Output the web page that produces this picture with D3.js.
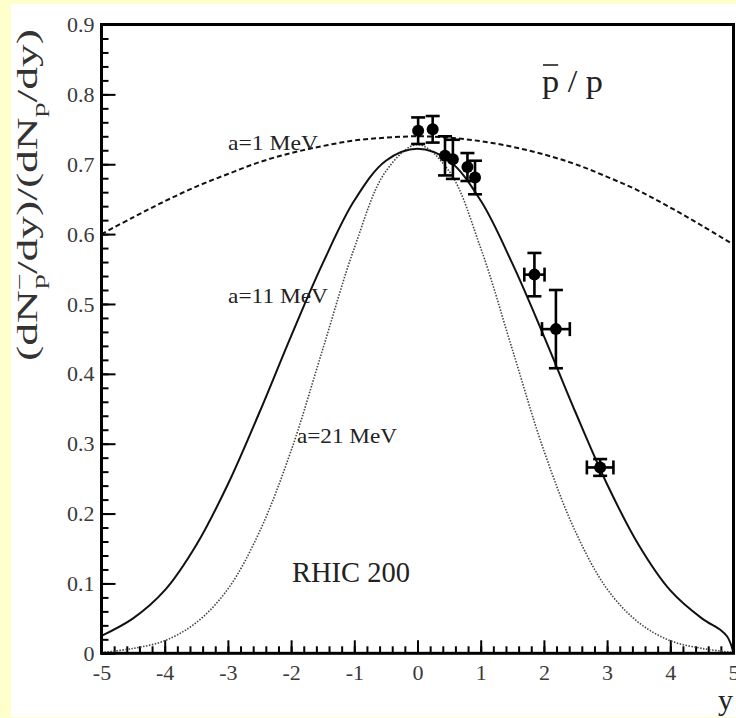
<!DOCTYPE html>
<html><head><meta charset="utf-8">
<script src="https://cdn.jsdelivr.net/npm/d3@7"></script>
<style>html,body{margin:0;padding:0;background:#FFFFCC;} svg{display:block}</style>
</head><body><svg id="c" width="736" height="718"></svg>
<script>
// ---- data ----
const dataRap      = [0.01, 0.24, 0.435, 0.56, 0.79, 0.91, 1.85, 2.19, 2.89];
const dataRatio    = [0.748, 0.750, 0.712, 0.707, 0.696, 0.681, 0.542, 0.464, 0.266];
const dataErrRatio = [0.019, 0.019, 0.028, 0.028, 0.020, 0.024, 0.031, 0.056, 0.012];
const dataErrRap   = [0, 0, 0, 0, 0, 0, 0.16, 0.22, 0.21];

const curveA1Rap = [-5,-4.5,-4,-3.5,-3,-2.5,-2,-1.5,-1,-0.5,0,0.5,1,1.5,2,2.5,3,3.5,4,4.5,5];
const curveA1Val = [0.600,0.624,0.647,0.668,0.686,0.703,0.716,0.726,0.734,0.738,0.740,0.738,0.733,0.725,0.714,0.700,0.682,0.662,0.638,0.612,0.585];

const curveA11Rap = [-5,-4.5,-4,-3.5,-3,-2.5,-2,-1.5,-1,-0.5,0,0.5,1,1.5,2,2.5,3,3.5,4,4.5,4.8,4.9,4.97,5];
const curveA11Val = [0.025,0.050,0.090,0.155,0.242,0.345,0.454,0.558,0.648,0.705,0.722,0.705,0.648,0.558,0.454,0.345,0.242,0.155,0.090,0.050,0.033,0.024,0.010,0];

const curveA21Rap = [-5,-4.5,-4,-3.5,-3,-2.5,-2,-1.5,-1,-0.5,0,0.5,1,1.5,2,2.5,3,3.5,4,4.5,5];
const curveA21Val = [0.001,0.007,0.018,0.044,0.092,0.174,0.290,0.435,0.580,0.690,0.728,0.690,0.580,0.435,0.290,0.174,0.092,0.044,0.018,0.007,0.001];

const xTickValues = [-5,-4,-3,-2,-1,0,1,2,3,4,5];
const xTickLabels = ["-5","-4","-3","-2","-1","0","1","2","3","4","5"];
const yTickValues = [0,0.1,0.2,0.3,0.4,0.5,0.6,0.7,0.8,0.9];
const yTickLabels = ["0","0.1","0.2","0.3","0.4","0.5","0.6","0.7","0.8","0.9"];

// ---- drawing ----
const W = 736, H = 718;
const FONT = "'Liberation Serif','Times New Roman',serif";
const svg = d3.select('#c');
svg.append('rect').attr('x', 11).attr('y', 4).attr('width', W - 11).attr('height', H - 5).attr('fill', '#fff');

const x = d3.scaleLinear().domain([-5, 5]).range([101.5, 733.5]);
const y = d3.scaleLinear().domain([0, 0.9]).range([653.3, 24.5]);

const xMinor = d3.range(-5, 5.0001, 0.2);
const yMinor = d3.range(0, 0.9001, 0.02);

function styleAxis(g) {
  g.select('.domain').remove();
  g.selectAll('.tick line').attr('stroke', '#000').attr('stroke-width', 2);
  g.selectAll('.tick text').attr('fill', '#3a3a3a').style('font-family', FONT).style('font-size', '22px');
}

svg.append('g').attr('transform', `translate(${x(-5)},0)`)
  .call(d3.axisLeft(y).tickValues(yMinor).tickSize(-7).tickSizeOuter(0).tickFormat(''))
  .call(styleAxis);
svg.append('g').attr('transform', `translate(${x(-5)},0)`)
  .call(d3.axisLeft(y).tickValues(yTickValues).tickSize(-14).tickSizeOuter(0).tickPadding(7)
        .tickFormat((d, i) => yTickLabels[i]))
  .call(styleAxis);
svg.append('g').attr('transform', `translate(0,${y(0)})`)
  .call(d3.axisBottom(x).tickValues(xMinor).tickSize(-7).tickSizeOuter(0).tickFormat(''))
  .call(styleAxis);
svg.append('g').attr('transform', `translate(0,${y(0)})`)
  .call(d3.axisBottom(x).tickValues(xTickValues).tickSize(-13).tickSizeOuter(0).tickPadding(11)
        .tickFormat((d, i) => xTickLabels[i]))
  .call(styleAxis);

// curves
const line = d3.line().x(d => x(d[0])).y(d => y(d[1])).curve(d3.curveCatmullRom.alpha(0.5));
function drawCurve(rap, val, attrs) {
  const p = svg.append('path').datum(rap.map((r, i) => [r, val[i]]))
    .attr('d', line).attr('fill', 'none');
  Object.entries(attrs).forEach(([k, v]) => p.attr(k, v));
}
drawCurve(curveA1Rap, curveA1Val, {stroke: '#111', 'stroke-width': 2, 'stroke-dasharray': '5 3'});
drawCurve(curveA21Rap, curveA21Val, {stroke: '#444', 'stroke-width': 1.6, 'stroke-dasharray': '1.5 1.5'});
drawCurve(curveA11Rap, curveA11Val, {stroke: '#111', 'stroke-width': 2});

// frame
svg.append('rect').attr('x', x(-5)).attr('y', y(0.9)).attr('width', x(5) - x(-5)).attr('height', y(0) - y(0.9))
  .attr('fill', 'none').attr('stroke', '#000').attr('stroke-width', 3);

// data points with error bars
const pts = dataRap.map((r, i) => ({r, v: dataRatio[i], ev: dataErrRatio[i], er: dataErrRap[i]}));
const eg = svg.append('g').attr('stroke', '#000').attr('stroke-width', 2.6);
const cap = 7;
pts.forEach(p => {
  eg.append('line').attr('x1', x(p.r)).attr('x2', x(p.r)).attr('y1', y(p.v - p.ev)).attr('y2', y(p.v + p.ev));
  eg.append('line').attr('x1', x(p.r) - cap).attr('x2', x(p.r) + cap).attr('y1', y(p.v + p.ev)).attr('y2', y(p.v + p.ev));
  eg.append('line').attr('x1', x(p.r) - cap).attr('x2', x(p.r) + cap).attr('y1', y(p.v - p.ev)).attr('y2', y(p.v - p.ev));
  if (p.er > 0) {
    eg.append('line').attr('x1', x(p.r - p.er)).attr('x2', x(p.r + p.er)).attr('y1', y(p.v)).attr('y2', y(p.v));
    eg.append('line').attr('x1', x(p.r - p.er)).attr('x2', x(p.r - p.er)).attr('y1', y(p.v) - cap).attr('y2', y(p.v) + cap);
    eg.append('line').attr('x1', x(p.r + p.er)).attr('x2', x(p.r + p.er)).attr('y1', y(p.v) - cap).attr('y2', y(p.v) + cap);
  }
});
svg.append('g').selectAll('circle').data(pts).join('circle')
  .attr('cx', d => x(d.r)).attr('cy', d => y(d.v)).attr('r', 6).attr('fill', '#000');

// texts
function label(txt, px, py, size, len) {
  const t = svg.append('text').attr('x', px).attr('y', py).text(txt)
    .attr('fill', '#222').style('font-family', FONT).style('font-size', size + 'px');
  if (len) t.attr('textLength', len).attr('lengthAdjust', 'spacingAndGlyphs');
  return t;
}
label('a=1 MeV', 228, 150, 21, 90);
label('a=11 MeV', 228, 303, 21, 100);
label('a=21 MeV', 297, 443, 21, 100);
label('RHIC 200', 292, 582, 29, 118);
const pp = label('p / p', 542, 92, 32, 61);
const ext = pp.node().getExtentOfChar(0);
svg.append('line').attr('x1', ext.x + 1).attr('x2', ext.x + ext.width - 1)
  .attr('y1', 65).attr('y2', 65).attr('stroke', '#222').attr('stroke-width', 1.6);
svg.append('text').attr('x', 733).attr('y', 710).attr('text-anchor', 'end').text('y')
  .attr('fill', '#222').style('font-family', FONT).style('font-size', '30px');

// y axis title
const yt = svg.append('text').attr('transform', 'translate(37,195) rotate(-90)')
  .attr('text-anchor', 'middle').attr('fill', '#333')
  .style('font-family', FONT).style('font-size', '29px')
  .attr('textLength', 332).attr('lengthAdjust', 'spacingAndGlyphs');
yt.append('tspan').text('(dN');
yt.append('tspan').attr('dy', -11).style('font-size', '19px').text('\u2212');
yt.append('tspan').attr('dx', -10).attr('dy', 19).style('font-size', '19px').text('p');
yt.append('tspan').attr('dy', -8).text('/dy)/(dN');
yt.append('tspan').attr('dy', 8).style('font-size', '19px').text('p');
yt.append('tspan').attr('dy', -8).text('/dy)');
</script></body></html>
